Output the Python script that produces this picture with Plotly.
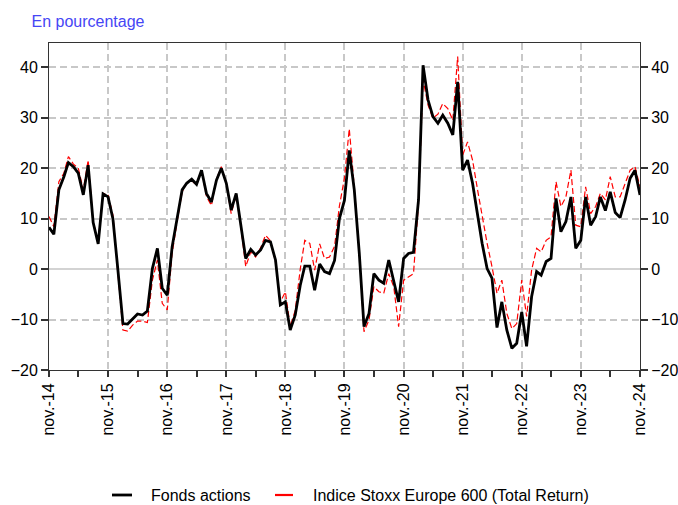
import plotly.graph_objects as go
import pandas as pd

dates = pd.date_range("2014-11-01", "2024-11-01", freq="MS")

fonds = [8.3, 6.9, 15.7, 18.3, 21.1, 20.3, 19.0, 14.7, 20.6, 9.2,
         5.0, 14.9, 14.3, 10.0, -0.2, -10.8, -10.9, -9.8, -8.9, -9.1,
         -8.3, 0.1, 4.1, -3.8, -5.2, 4.4, 9.7, 15.7, 17.0, 17.8,
         16.8, 19.6, 15.0, 13.3, 17.6, 20.0, 17.0, 11.7, 15.0, 8.7,
         2.1, 3.9, 2.8, 3.8, 5.7, 5.4, 1.8, -7.1, -6.5, -12.1,
         -9.1, -3.2, 0.6, 0.6, -4.2, 1.0, -0.5, -0.9, 1.7, 10.0,
         13.6, 23.5, 15.7, 3.1, -11.4, -8.8, -0.9, -2.2, -2.8, 1.8,
         -2.2, -6.5, 2.1, 3.1, 3.3, 13.7, 40.4, 33.5, 30.2, 28.9,
         30.5, 28.9, 26.6, 37.1, 19.6, 21.6, 17.0, 10.4, 5.1, 0.1,
         -1.8, -11.6, -6.5, -12.1, -15.7, -14.7, -8.5, -15.3, -5.5, -0.5,
         -1.2, 1.5, 2.1, 14.0, 7.4, 9.4, 14.3, 4.1, 5.7, 14.3,
         8.7, 10.4, 14.3, 11.6, 15.3, 11.2, 10.2, 13.7, 18.0, 19.6,
         14.7]

stoxx = [10.4, 8.4, 17.3, 19.0, 22.3, 20.8, 20.0, 15.7, 21.6, 9.4,
         5.4, 15.0, 14.7, 10.7, -0.9, -12.1, -12.3, -11.1, -10.3, -10.3,
         -10.6, -2.2, 1.8, -6.8, -8.1, 3.1, 9.4, 15.3, 17.1, 17.6,
         16.6, 19.6, 14.4, 12.6, 17.8, 20.3, 17.0, 11.0, 14.6, 7.8,
         0.5, 3.4, 2.4, 4.2, 6.7, 5.6, 1.5, -6.5, -4.5, -11.4,
         -8.2, 0.0, 5.7, 5.1, -0.2, 5.0, 2.1, 2.4, 4.5, 12.5,
         18.0, 27.8, 16.3, 3.1, -12.4, -10.1, -3.5, -4.5, -4.8, -0.9,
         -3.5, -11.4, -2.2, -1.5, -0.9, 13.0, 37.5, 32.5, 29.9, 30.7,
         32.8, 31.8, 29.5, 42.1, 22.6, 25.2, 21.6, 15.7, 10.4, 5.1,
         0.5, -4.8, -2.2, -8.8, -11.8, -10.8, -2.2, -9.4, -0.2, 4.1,
         3.4, 5.7, 6.4, 17.3, 12.4, 14.3, 19.6, 8.7, 8.4, 16.3,
         11.0, 12.4, 15.0, 13.7, 18.3, 14.3, 14.3, 17.0, 19.6, 20.3,
         16.3]

series_names = ["Fonds actions", "Indice Stoxx Europe 600 (Total Return)"]
year_ticks = pd.date_range("2014-11-01", "2024-11-01", freq="12MS")
year_labels = ["nov.-%02d" % (14 + k) for k in range(len(year_ticks))]
half_ticks = pd.date_range("2015-05-01", "2024-05-01", freq="12MS")
y_ticks = [-20, -10, 0, 10, 20, 30, 40]

FONT = "Liberation Sans, Arial, sans-serif"
axis_font = dict(family=FONT, size=16, color="#000000")

fig = go.Figure()
fig.add_trace(go.Scatter(x=dates, y=stoxx, mode="lines", name=series_names[1], showlegend=False,
                         line=dict(color="#FF0000", width=1.2, dash="6px,3px")))
fig.add_trace(go.Scatter(x=dates, y=fonds, mode="lines", name=series_names[0], showlegend=False,
                         line=dict(color="#000000", width=2.8)))
fig.add_trace(go.Scatter(x=[dates[0]], y=[0], yaxis="y2", mode="lines", showlegend=False,
                         hoverinfo="skip", line=dict(color="rgba(0,0,0,0)")))

W, H = 678, 505
L, R, T, B = 49, 640, 43, 370

def px(xp):
    return (xp - L) / (R - L)

def py(yp):
    return (B - yp) / (B - T)

leg_y = py(495)
legend_items = [(112, 132, 149, "#000000", 2.8, series_names[0]),
                (275, 293, 311, "#FF0000", 2.2, series_names[1])]
shapes = []
annotations = []
for x0, x1, xt, col, w, name in legend_items:
    shapes.append(dict(type="line", xref="paper", yref="paper", x0=px(x0), x1=px(x1),
                       y0=leg_y, y1=leg_y, line=dict(color=col, width=w)))
    annotations.append(dict(text=name, xref="paper", yref="paper", x=px(xt), y=leg_y,
                            xanchor="left", yanchor="middle", showarrow=False,
                            font=axis_font))

fig.update_layout(
    width=W, height=H,
    margin=dict(l=L, r=W - R, t=T, b=H - B),
    paper_bgcolor="white", plot_bgcolor="white",
    font=axis_font,
    showlegend=False,
    title=dict(text="En pourcentage", x=31.5 / W, xanchor="left", xref="container",
               y=1 - 21 / H, yanchor="middle", yref="container",
               font=dict(family=FONT, size=16, color="#4646F5")),
    shapes=shapes,
    annotations=annotations,
    xaxis=dict(range=[dates[0], dates[-1]], tickmode="array", tickvals=list(year_ticks),
               ticktext=year_labels, tickangle=-90, ticks="outside", ticklen=6,
               tickcolor="#333333", tickwidth=2,
               showline=True, linecolor="#333333", linewidth=1, mirror=True,
               showgrid=True, gridcolor="#C8C8C8", griddash="7px,4px", gridwidth=1.5,
               minor=dict(tickmode="array", tickvals=list(half_ticks), ticks="outside",
                          ticklen=6, tickcolor="#333333", tickwidth=2, showgrid=False),
               zeroline=False, tickfont=axis_font, automargin=False),
    yaxis=dict(range=[-20, 44.8], tickmode="array", tickvals=y_ticks,
               ticks="outside", ticklen=7, tickcolor="#333333", tickwidth=2,
               showline=True, linecolor="#333333", linewidth=1,
               showgrid=True, gridcolor="#C8C8C8", griddash="7px,4px", gridwidth=1.5,
               zeroline=True, zerolinecolor="#D3D3D3", zerolinewidth=2,
               tickfont=axis_font, automargin=False),
    yaxis2=dict(range=[-20, 44.8], overlaying="y", side="right", tickmode="array",
                tickvals=y_ticks,
                ticks="outside", ticklen=7, tickcolor="#333333", tickwidth=2,
                showline=True, linecolor="#333333", linewidth=1,
                showgrid=False, zeroline=False, tickfont=axis_font, automargin=False),
)

fig.write_html("out.html",
               config={"displayModeBar": False},
               post_script="document.body.style.margin='0';"
                           "document.body.style.overflow='hidden';"
                           "document.documentElement.style.overflow='hidden';")
